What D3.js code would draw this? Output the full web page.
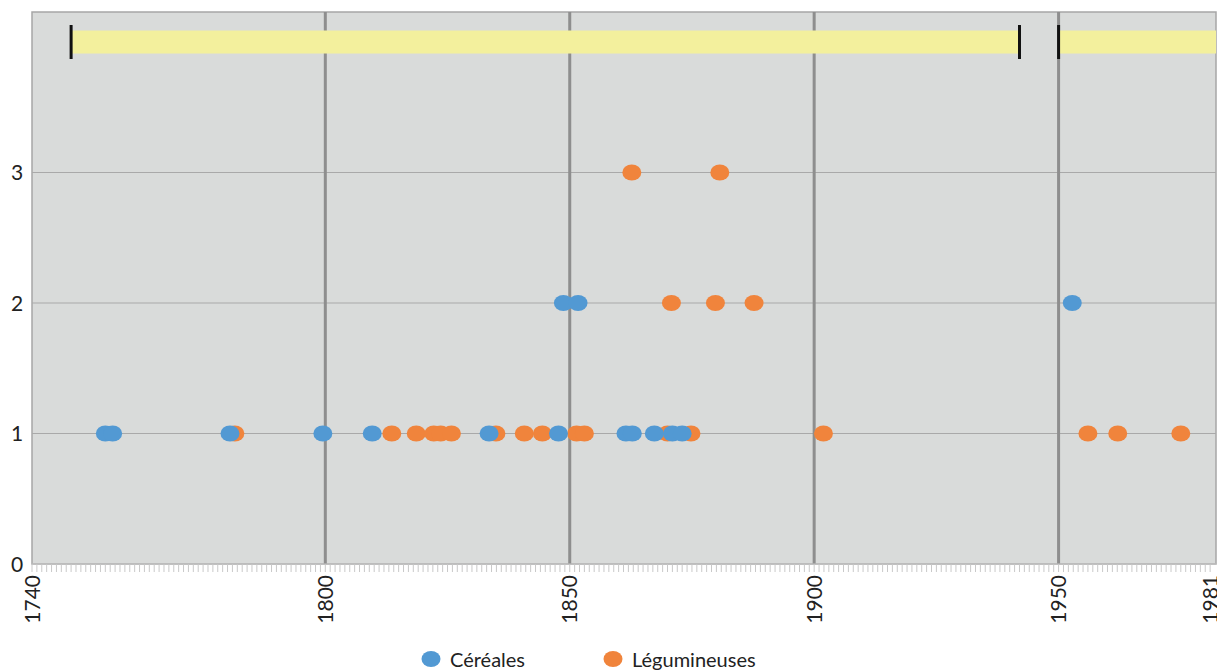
<!DOCTYPE html>
<html>
<head>
<meta charset="utf-8">
<script src="https://cdn.jsdelivr.net/npm/d3@7"></script>
<style>
  html, body { margin: 0; padding: 0; background: #fff; }
  svg { display: block; font-family: Lato, "Open Sans", sans-serif; }
</style>
</head>
<body>
<svg id="chart" width="1217" height="670"></svg>
<script>
// series: year -> count
var cereales = [
  [1755, 1], [1756.5, 1], [1780.5, 1], [1799.5, 1], [1809.6, 1], [1833.5, 1],
  [1847.7, 1], [1861.5, 1], [1862.8, 1], [1867.3, 1], [1871, 1], [1873, 1],
  [1848.7, 2], [1851.7, 2], [1952.8, 2]
];
var legumineuses = [
  [1781.5, 1], [1813.6, 1], [1818.6, 1], [1822.2, 1], [1823.6, 1], [1825.8, 1],
  [1834.9, 1], [1840.7, 1], [1844.4, 1], [1851.4, 1], [1853, 1], [1870, 1],
  [1874.8, 1], [1901.9, 1], [1956, 1], [1962.1, 1], [1975, 1],
  [1870.8, 2], [1879.8, 2], [1887.7, 2],
  [1862.7, 3], [1880.7, 3]
];
var periods = [[1748, 1942], [1950, 1982.2]];
var periodMarks = [1748, 1942, 1950];
var xTicks = [1740, 1800, 1850, 1900, 1950, 1981];
var xGrid = [1800, 1850, 1900, 1950];
var yTicks = [0, 1, 2, 3];
var legendItems = [["Céréales", "#5299d3"], ["Légumineuses", "#f0843c"]];

(function() {
  "use strict";
  var svg = d3.select("#chart");
  var left = 32, right = 1216, top = 12, bottom = 564;

  var x = d3.scaleLinear().domain([1740, 1982.2]).range([left, right]),
      y = d3.scaleLinear().domain([0, 4.23]).range([bottom, top]);

  // plot background
  svg.append("rect")
    .attr("x", left).attr("y", top)
    .attr("width", right - left).attr("height", bottom - top)
    .attr("fill", "#d9dbda")
    .attr("stroke", "#a6a6a6").attr("stroke-width", 1.5);

  // minor ticks, one per year
  svg.append("g").selectAll("line")
    .data(d3.range(1740, 1982))
    .enter().append("line")
      .attr("x1", function(d) { return x(d); })
      .attr("x2", function(d) { return x(d); })
      .attr("y1", bottom).attr("y2", bottom + 8)
      .attr("stroke", "#c9c9c9").attr("stroke-width", 1);

  // horizontal grid
  svg.append("g").selectAll("line")
    .data(yTicks.slice(1))
    .enter().append("line")
      .attr("x1", left).attr("x2", right)
      .attr("y1", function(d) { return y(d); })
      .attr("y2", function(d) { return y(d); })
      .attr("stroke", "#a9a9a9").attr("stroke-width", 1);

  // vertical grid
  svg.append("g").selectAll("line")
    .data(xGrid)
    .enter().append("line")
      .attr("x1", function(d) { return x(d); })
      .attr("x2", function(d) { return x(d); })
      .attr("y1", top).attr("y2", bottom)
      .attr("stroke", "#8e8e8e").attr("stroke-width", 3);

  // period bars, drawn over the grid
  var bandH = 23;
  svg.append("g").selectAll("rect")
    .data(periods)
    .enter().append("rect")
      .attr("x", function(d) { return x(d[0]); })
      .attr("width", function(d) { return x(d[1]) - x(d[0]); })
      .attr("y", y(4) - bandH / 2)
      .attr("height", bandH)
      .attr("fill", "#f3f09d");

  svg.append("g").selectAll("line")
    .data(periodMarks)
    .enter().append("line")
      .attr("x1", function(d) { return x(d); })
      .attr("x2", function(d) { return x(d); })
      .attr("y1", y(4) - 17).attr("y2", y(4) + 17)
      .attr("stroke", "#111").attr("stroke-width", 3);

  // bottom axis line
  svg.append("line")
    .attr("x1", left).attr("x2", right)
    .attr("y1", bottom).attr("y2", bottom)
    .attr("stroke", "#c4c4c4");

  // y labels
  svg.append("g").selectAll("text")
    .data(yTicks)
    .enter().append("text")
      .attr("x", 17)
      .attr("y", function(d) { return y(d); })
      .attr("dy", "0.36em")
      .attr("text-anchor", "middle")
      .attr("font-size", 21)
      .attr("fill", "#222")
      .text(function(d) { return d; });

  // x labels, rotated
  svg.append("g").selectAll("text")
    .data(xTicks)
    .enter().append("text")
      .attr("transform", function(d) { return "translate(" + x(d) + "," + (bottom + 11) + ") rotate(-90)"; })
      .attr("dy", "0.36em")
      .attr("text-anchor", "end")
      .attr("font-size", 21)
      .attr("fill", "#222")
      .text(function(d) { return d; });

  // dots
  var rx = 9.5, ry = 8;
  function drawSeries(data, color) {
    svg.append("g").selectAll("ellipse")
      .data(data)
      .enter().append("ellipse")
        .attr("cx", function(d) { return x(d[0]); })
        .attr("cy", function(d) { return y(d[1]); })
        .attr("rx", rx).attr("ry", ry)
        .attr("fill", color);
  }
  drawSeries(legumineuses, legendItems[1][1]);
  drawSeries(cereales, legendItems[0][1]);

  // legend
  var legendX = [431, 613];
  var lg = svg.append("g").selectAll("g")
    .data(legendItems)
    .enter().append("g")
      .attr("transform", function(d, i) { return "translate(" + legendX[i] + ",659)"; });
  lg.append("ellipse").attr("rx", rx).attr("ry", ry)
    .attr("fill", function(d) { return d[1]; });
  lg.append("text")
    .attr("x", 19).attr("y", 8)
    .attr("font-size", 20)
    .attr("fill", "#222")
    .text(function(d) { return d[0]; });
})();
</script>
</body>
</html>
